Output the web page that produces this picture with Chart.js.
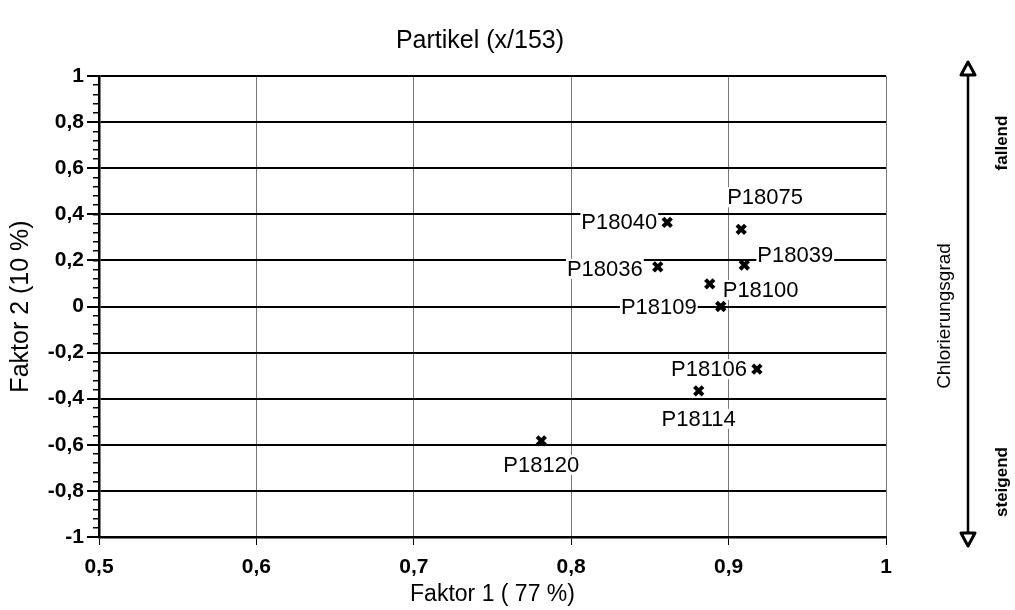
<!DOCTYPE html>
<html>
<head>
<meta charset="utf-8">
<script src="https://cdn.jsdelivr.net/npm/chart.js@4.4.0/dist/chart.umd.min.js"></script>
<style>
  html, body { margin: 0; padding: 0; background: #fff; overflow: hidden; }
</style>
</head>
<body>
<canvas id="grafico" width="1015" height="610"></canvas>
<script>
// Daten
const partikel = ["P18040", "P18075", "P18039", "P18036", "P18100", "P18109", "P18106", "P18114", "P18120"];
const faktor1 = [0.861, 0.908, 0.910, 0.855, 0.888, 0.895, 0.918, 0.881, 0.781];
const faktor2 = [0.365, 0.335, 0.180, 0.172, 0.098, 0.0, -0.272, -0.366, -0.583];

// Beschriftungslage je Punkt: Ausrichtung und Versatz in px
const labelLage = {
  P18040: ["right", -10, 0],
  P18075: ["left", -14, -32],
  P18039: ["left", 13, -10],
  P18036: ["right", -15, 2],
  P18100: ["left", 13, 6],
  P18109: ["right", -24, 0],
  P18106: ["right", -10, 0],
  P18114: ["center", 0, 28],
  P18120: ["center", 0, 24],
};

const fmt = (v) => String(Math.round(v * 10) / 10).replace(".", ",");
const FONT = "'Liberation Sans', Arial, sans-serif";

// Punktbeschriftungen mit weißem Hintergrund
const punktLabels = {
  id: "punktLabels",
  afterDatasetsDraw(chart) {
    const ctx = chart.ctx;
    const meta = chart.getDatasetMeta(0);
    ctx.save();
    ctx.font = "22px " + FONT;
    ctx.textBaseline = "middle";
    meta.data.forEach((pt, i) => {
      const name = partikel[i];
      const [align, dx, dy] = labelLage[name];
      const w = ctx.measureText(name).width;
      const x = pt.x + dx;
      const y = pt.y + dy;
      let left = x;
      if (align === "right") left = x - w;
      if (align === "center") left = x - w / 2;
      ctx.fillStyle = "#fff";
      ctx.fillRect(left - 1, y - 10, w + 2, 20);
      ctx.fillStyle = "#000";
      ctx.textAlign = "left";
      ctx.fillText(name, left, y + 1);
    });
    ctx.restore();
  },
};

// Pfeil "Chlorierungsgrad" rechts
const chlorPfeil = {
  id: "chlorPfeil",
  afterDraw(chart) {
    const ctx = chart.ctx;
    const x = 968, y1 = 62, y2 = 546;
    ctx.save();
    ctx.strokeStyle = "#000";
    ctx.lineWidth = 2.5;
    ctx.beginPath();
    ctx.moveTo(x, y1 + 13);
    ctx.lineTo(x, y2 - 13);
    ctx.stroke();
    ctx.fillStyle = "#fff";
    ctx.lineWidth = 3;
    ctx.lineJoin = "round";
    ctx.beginPath();
    ctx.moveTo(x, y1);
    ctx.lineTo(x - 7, y1 + 13);
    ctx.lineTo(x + 7, y1 + 13);
    ctx.closePath();
    ctx.fill();
    ctx.stroke();
    ctx.beginPath();
    ctx.moveTo(x, y2);
    ctx.lineTo(x - 7, y2 - 13);
    ctx.lineTo(x + 7, y2 - 13);
    ctx.closePath();
    ctx.fill();
    ctx.stroke();

    ctx.fillStyle = "#000";
    ctx.textAlign = "center";
    ctx.textBaseline = "middle";
    const rot = (txt, tx, ty, font) => {
      ctx.save();
      ctx.translate(tx, ty);
      ctx.rotate(-Math.PI / 2);
      ctx.font = font;
      ctx.fillText(txt, 0, 0);
      ctx.restore();
    };
    rot("Chlorierungsgrad", 945, 316, "19px " + FONT);
    rot("fallend", 1002, 143, "bold 17px " + FONT);
    rot("steigend", 1002, 482, "bold 17px " + FONT);
    ctx.restore();
  },
};

new Chart(document.getElementById("grafico"), {
  type: "scatter",
  data: {
    datasets: [
      {
        label: "Partikel",
        data: faktor1.map((x, i) => ({ x: x, y: faktor2[i] })),
        pointStyle: "crossRot",
        pointRadius: 6,
        pointBorderWidth: 4,
        borderColor: "#000",
        backgroundColor: "#000",
      },
    ],
  },
  options: {
    responsive: false,
    animation: false,
    layout: { padding: { left: 0, right: 55, top: 0, bottom: 0 } },
    plugins: {
      legend: { display: false },
      tooltip: { enabled: false },
      title: {
        display: true,
        text: "Partikel (x/153)",
        color: "#000",
        font: { family: FONT, size: 25, weight: "normal" },
        padding: { top: 26, bottom: 20 },
      },
    },
    scales: {
      x: {
        type: "linear",
        min: 0.5,
        max: 1,
        ticks: {
          stepSize: 0.1,
          color: "#000",
          padding: 10,
          font: { family: FONT, size: 21, weight: "bold" },
          callback: (v) => fmt(v),
        },
        grid: { color: "#777", lineWidth: 1, tickColor: "#000", tickLength: 8 },
        border: { color: "#000", width: 2.5 },
        title: {
          display: true,
          text: "Faktor 1 ( 77 %)",
          color: "#000",
          font: { family: FONT, size: 23 },
          padding: { top: 0, bottom: 2 },
        },
        afterFit: (s) => { s.height = 73; },
      },
      y: {
        type: "linear",
        position: "left",
        weight: 1,
        min: -1,
        max: 1,
        ticks: {
          stepSize: 0.2,
          color: "#000",
          padding: 3,
          font: { family: FONT, size: 21, weight: "bold" },
          callback: (v) => fmt(v),
        },
        grid: { color: "#000", lineWidth: 2, tickColor: "#000", tickLength: 12 },
        border: { color: "#000", width: 2.5 },
        title: {
          display: true,
          text: "Faktor 2 (10 %)",
          color: "#000",
          font: { family: FONT, size: 25 },
          padding: { top: 6, bottom: 0 },
        },
        afterFit: (s) => { s.width = 99; },
      },
      yMinor: {
        type: "linear",
        position: "left",
        weight: 0,
        min: -1,
        max: 1,
        ticks: { stepSize: 0.04, display: false },
        grid: { drawOnChartArea: false, color: "#000", lineWidth: 1.5, tickLength: 6 },
        border: { display: false },
        afterFit: (s) => { s.width = 0; },
      },
      yR: {
        type: "linear",
        position: "right",
        ticks: { display: false },
        grid: { display: false },
        border: { display: false },
        afterFit: (s) => { s.width = 74; },
      },
    },
  },
  plugins: [punktLabels, chlorPfeil],
});
</script>
</body>
</html>
